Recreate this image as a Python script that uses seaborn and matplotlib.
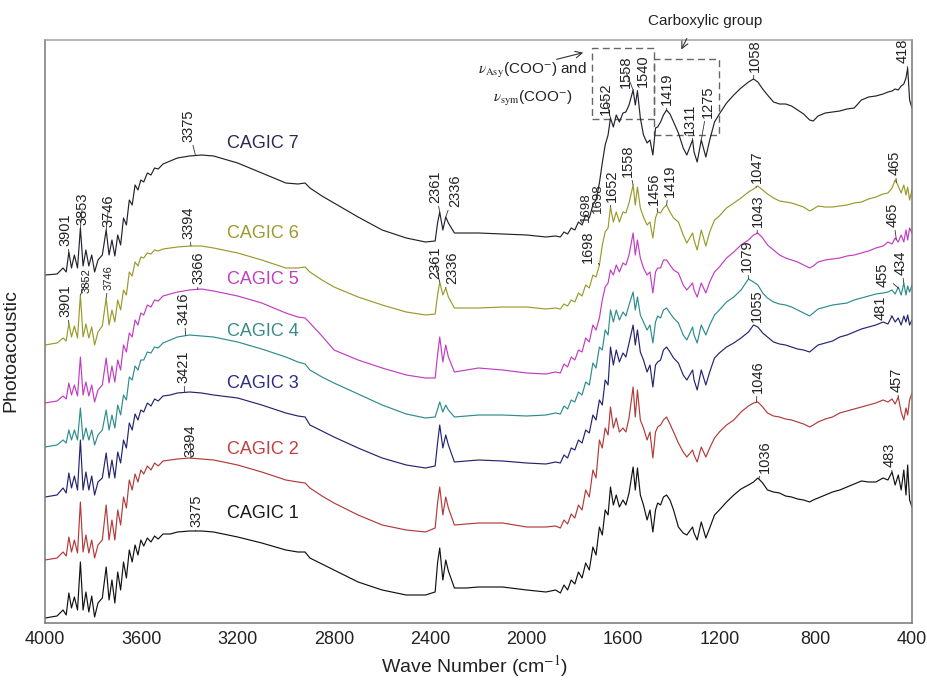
import numpy as np
import pandas as pd
import matplotlib
matplotlib.use("Agg")
import matplotlib.pyplot as plt
from matplotlib.patches import Rectangle
import seaborn as sns

# ---------------------------------------------------------------------------
# Photoacoustic FTIR spectra of the CAGIC samples (arbitrary units, stacked)
# ---------------------------------------------------------------------------
wavenumber = [
    4000, 3950, 3925, 3912, 3901, 3890, 3878, 3865, 3853, 3842, 3830, 3818, 3806, 3794, 3780,
    3762, 3746, 3734, 3722, 3710, 3698, 3686, 3674, 3662, 3650, 3638, 3626, 3614, 3602, 3590,
    3575, 3560, 3545, 3530, 3510, 3480, 3450,
    3400, 3350, 3300, 3200, 3100, 3000, 2950, 2920, 2900, 2850, 2800, 2700, 2600, 2500, 2420,
    2380, 2370, 2361, 2348, 2336, 2325, 2300, 2250, 2200, 2100, 2000, 1920,
    1880, 1860, 1845, 1830, 1815, 1800, 1785, 1770, 1755, 1740, 1725, 1712, 1698, 1686, 1674,
    1662, 1652,
    1640, 1628, 1615, 1600, 1588, 1575, 1558, 1549, 1540, 1528, 1515, 1500, 1488, 1476, 1465,
    1456, 1444, 1432, 1419, 1405, 1390, 1370, 1350, 1335, 1311, 1305, 1292, 1275, 1256, 1240,
    1220, 1200, 1170, 1140, 1110, 1079, 1058, 1040, 1020, 1000, 975, 950, 925, 900, 875,
    850, 825, 810, 790, 760, 730, 700, 670, 640, 610, 580, 550, 520, 500, 483,
    470, 457, 445, 434, 425, 418, 410, 400,
]

cagic_1 = [
    5, 7, 13, 8, 30, 15, 26, 13, 61, 13, 31, 11, 27, 6, 20, 25, 56, 23, 43, 20, 51, 33, 61, 45, 73,
    61, 78, 68, 83, 77, 85, 81, 87, 84, 89, 89, 91,
    92, 92, 91, 86, 80, 73, 71, 71, 65, 59, 53, 41, 33, 28, 28, 31, 60, 75, 43, 63, 52, 35, 35, 36,
    36, 33, 31,
    33, 30, 38, 33, 43, 39, 51, 45, 60, 53, 76, 68, 96, 88, 113, 108, 136,
    118, 128, 116, 123, 118, 130, 156, 133, 155, 128, 118, 103, 113, 91, 113, 120, 118, 126, 128,
    123, 113, 96, 90, 88, 96, 90, 83, 101, 85, 95,
    108, 113, 121, 128, 134, 138, 141, 145, 140, 133, 131, 130, 127, 126, 124, 123, 121, 123, 125,
    128, 131, 133, 136, 139, 142, 141, 141, 145, 143, 151, 138, 148, 133, 153, 128, 158, 123, 116,
]

cagic_2 = [
    63, 65, 71, 67, 86, 71, 83, 70, 121, 71, 88, 70, 83, 65, 78, 83, 118, 83, 103, 83, 113, 98,
    126, 115, 143, 133, 149, 141, 153, 149, 157, 153, 160, 157, 162, 163, 164,
    165, 164, 163, 158, 151, 143, 141, 140, 135, 127, 120, 108, 98, 93, 91, 95, 120, 136, 108, 126,
    115, 98, 99, 100, 100, 96, 96,
    97, 95, 103, 99, 109, 105, 118, 113, 133, 126, 153, 145, 183, 175, 195, 188, 216,
    195, 205, 191, 195, 191, 205, 236, 206, 233, 203, 195, 183, 191, 165, 191, 196, 198, 203, 206,
    199, 191, 180, 171, 166, 173, 168, 161, 176, 166, 175,
    185, 191, 198, 203, 211, 217, 220, 221, 216, 210, 207, 206, 204, 203, 201, 199, 196, 198, 201,
    204, 206, 210, 212, 214, 216, 218, 220, 223, 221, 224, 219, 226, 211, 203, 215, 208, 223, 230,
]

cagic_3 = [
    126, 128, 135, 130, 150, 135, 147, 133, 183, 133, 151, 133, 147, 128, 141, 145, 170, 145, 163,
    145, 171, 160, 183, 175, 200, 193, 209, 203, 213, 211, 220, 217, 224, 222, 227, 228, 230,
    231, 230, 228, 225, 218, 210, 207, 206, 198, 192, 186, 175, 165, 158, 155, 157, 180, 198, 175,
    188, 178, 161, 162, 163, 162, 160, 159,
    161, 160, 168, 165, 175, 173, 183, 180, 193, 190, 208, 203, 223, 218, 243, 238, 276,
    258, 273, 261, 270, 266, 280, 298, 278, 293, 271, 263, 251, 258, 236, 258, 261, 263, 273, 276,
    271, 265, 260, 248, 243, 253, 243, 233, 253, 238, 251,
    265, 270, 276, 280, 285, 291, 298, 296, 290, 286, 281, 279, 278, 276, 274, 273, 271, 274, 278,
    280, 282, 286, 288, 291, 294, 296, 298, 301, 299, 307, 301, 305, 298, 307, 301, 308, 298, 303,
]

cagic_4 = [
    176, 178, 183, 180, 193, 183, 193, 183, 215, 183, 195, 183, 193, 178, 188, 193, 213, 193, 208,
    195, 218, 208, 228, 223, 246, 243, 257, 253, 263, 263, 271, 270, 276, 275, 280, 283, 286,
    288, 287, 286, 281, 274, 266, 261, 259, 253, 246, 240, 229, 218, 209, 205, 206, 214, 221, 211,
    218, 213, 206, 207, 208, 208, 207, 208,
    210, 209, 217, 214, 223, 221, 231, 228, 241, 238, 260, 255, 276, 273, 293, 288, 313,
    301, 313, 303, 311, 307, 318, 331, 313, 326, 308, 301, 293, 298, 280, 301, 307, 305, 313, 315,
    310, 305, 300, 288, 283, 296, 288, 280, 298, 288, 298,
    308, 313, 321, 326, 333, 344, 341, 338, 330, 325, 321, 319, 318, 316, 313, 310, 307, 310, 314,
    316, 318, 319, 320, 323, 325, 327, 329, 330, 331, 333, 329, 336, 328, 340, 328, 337, 331, 338,
]

cagic_5 = [
    220, 222, 227, 224, 240, 228, 238, 227, 266, 228, 241, 227, 238, 221, 233, 238, 265, 240, 257,
    241, 263, 253, 278, 271, 290, 286, 303, 298, 310, 308, 318, 316, 323, 322, 327, 329, 331,
    333, 334, 332, 327, 320, 310, 306, 305, 300, 287, 273, 263, 255, 248, 245, 245, 268, 286, 261,
    278, 266, 251, 253, 255, 253, 250, 249,
    251, 250, 259, 256, 266, 263, 273, 271, 285, 281, 298, 293, 305, 323, 336, 340, 353,
    348, 358, 351, 360, 358, 368, 390, 368, 383, 365, 355, 348, 351, 330, 351, 355, 355, 363, 363,
    358, 353, 350, 338, 333, 340, 333, 326, 340, 330, 341,
    351, 356, 365, 371, 378, 383, 388, 390, 385, 378, 373, 368, 365, 363, 361, 358, 355, 357, 361,
    363, 364, 365, 367, 368, 370, 372, 375, 377, 381, 379, 385, 381, 388, 381, 393, 383, 395, 390,
]

cagic_6 = [
    278, 280, 285, 282, 300, 286, 297, 285, 328, 286, 299, 285, 296, 278, 291, 297, 325, 298, 313,
    301, 323, 313, 333, 328, 351, 347, 361, 357, 366, 365, 370, 369, 373, 372, 374, 375, 376,
    377, 377, 375, 370, 363, 355, 355, 356, 351, 343, 336, 326, 318, 311, 308, 309, 328, 341, 328,
    335, 326, 315, 315, 315, 316, 316, 314,
    315, 314, 319, 317, 323, 321, 330, 327, 338, 335, 348, 346, 358, 378, 391, 395, 416,
    401, 411, 401, 411, 410, 420, 438, 418, 436, 415, 406, 398, 401, 385, 405, 411, 410, 415, 418,
    411, 405, 401, 388, 380, 390, 383, 373, 393, 377, 391,
    403, 407, 415, 420, 425, 431, 434, 437, 433, 429, 425, 422, 421, 420, 418, 416, 412, 414, 417,
    416, 416, 417, 418, 420, 421, 424, 426, 429, 430, 435, 443, 437, 430, 438, 428, 436, 423, 433,
]

cagic_7 = [
    348, 349, 355, 351, 371, 355, 368, 355, 395, 357, 373, 357, 368, 351, 363, 368, 393, 368, 383,
    367, 388, 378, 405, 398, 423, 418, 438, 433, 443, 441, 450, 448, 455, 454, 459, 462, 465,
    467, 468, 467, 460, 450, 440, 439, 440, 435, 427, 420, 406, 393, 385, 381, 382, 400, 411, 393,
    406, 400, 390, 390, 390, 389, 388, 386,
    387, 386, 391, 389, 395, 393, 401, 398, 408, 405, 418, 423, 440, 460, 478, 488, 505,
    496, 508, 501, 510, 511, 518, 533, 518, 532, 505, 488, 480, 483, 468, 495, 496, 501, 508, 513,
    509, 501, 490, 475, 468, 483, 471, 461, 483, 466, 483,
    501, 509, 520, 528, 535, 541, 544, 541, 534, 528, 521, 519, 519, 517, 513, 509, 503, 502, 507,
    510, 511, 512, 514, 515, 523, 526, 527, 529, 531, 532, 534, 533, 537, 539, 545, 555, 523, 515,
]

samples = ["CAGIC 1", "CAGIC 2", "CAGIC 3", "CAGIC 4", "CAGIC 5", "CAGIC 6", "CAGIC 7"]
spectra = [cagic_1, cagic_2, cagic_3, cagic_4, cagic_5, cagic_6, cagic_7]

line_colors = ["#111111", "#b23a3a", "#24246e", "#2e8c8c", "#c23cc2", "#9a9a2c", "#222230"]
label_colors = ["#1a1a1a", "#c04040", "#2e2e8a", "#3a8a8a", "#c040c0", "#9a9a30", "#2a2a50"]

# sample name placement (wavenumber of left edge, signal level)
name_pos = [(3244, 109), (3244, 174), (3244, 240), (3244, 291), (3244, 343), (3244, 389), (3244, 480)]

# peak labels: (sample index, peak wavenumber, label, text x, text bottom, font size)
peak_labels = [
    (6, 3901, "3901", 3913, 377, 10.5), (6, 3853, "3853", 3846, 398, 10.5),
    (6, 3746, "3746", 3738, 396, 10.5), (6, 3375, "3375", 3406, 481, 10.5),
    (6, 2361, "2361", 2381, 420, 10.5), (6, 2336, "2336", 2298, 416, 10.5),
    (6, 1652, "1652", 1671, 508, 10.5), (6, 1558, "1558", 1588, 535, 10.5),
    (6, 1540, "1540", 1517, 536, 10.5), (6, 1419, "1419", 1418, 518, 10.5),
    (6, 1311, "1311", 1322, 488, 10.5), (6, 1275, "1275", 1247, 505, 10.5),
    (6, 1058, "1058", 1052, 551, 10.5), (6, 418, "418", 438, 560, 10.5),
    (5, 3901, "3901", 3917, 306, 10.5), (5, 3853, "3852", 3826, 330, 8),
    (5, 3746, "3746", 3734, 333, 8), (5, 3394, "3394", 3406, 384, 10.5),
    (5, 2361, "2361", 2381, 344, 10.5), (5, 2336, "2336", 2310, 339, 10.5),
    (5, 1698, "1698", 1745, 360, 10.5), (5, 1652, "1652", 1646, 421, 10.5),
    (5, 1558, "1558", 1579, 446, 10.5), (5, 1456, "1456", 1470, 418, 10.5),
    (5, 1419, "1419", 1407, 426, 10.5), (5, 1047, "1047", 1044, 440, 10.5),
    (5, 465, "465", 471, 448, 10.5),
    (4, 3366, "3366", 3361, 339, 10.5), (4, 1043, "1043", 1040, 396, 10.5),
    (4, 465, "465", 479, 396, 10.5),
    (3, 3416, "3416", 3423, 298, 10.5), (3, 1079, "1079", 1085, 351, 10.5),
    (3, 455, "455", 521, 336, 10.5), (3, 434, "434", 446, 348, 10.5),
    (2, 3421, "3421", 3423, 240, 10.5), (2, 1055, "1055", 1044, 301, 10.5),
    (2, 481, "481", 530, 303, 10.5),
    (1, 3394, "3394", 3398, 166, 10.5), (1, 1046, "1046", 1040, 230, 10.5),
    (1, 457, "457", 463, 231, 10.5),
    (0, 3375, "3375", 3373, 96, 10.5), (0, 1036, "1036", 1010, 150, 10.5),
    (0, 483, "483", 492, 156, 10.5),
]

# long-form table for seaborn
df = pd.DataFrame({
    "wavenumber": np.tile(wavenumber, len(samples)),
    "signal": np.concatenate(spectra),
    "sample": np.repeat(samples, len(wavenumber)),
})

sns.set_theme(style="white")
plt.rcParams["font.family"] = ["Liberation Sans", "DejaVu Sans"]
plt.rcParams["mathtext.fontset"] = "stix"

fig = plt.figure(figsize=(9.28, 6.8), dpi=100)
ax = fig.add_axes([45 / 928, 1 - 623 / 680, 867 / 928, 583 / 680])

sns.lineplot(data=df, x="wavenumber", y="signal", hue="sample", hue_order=samples,
             palette=dict(zip(samples, line_colors)), estimator=None, sort=False,
             legend=False, linewidth=0.85, ax=ax)

ax.set_xlim(4000, 400)
ax.set_ylim(0, 583)
ax.set_xticks(np.arange(4000, 399, -400))
ax.set_xticks(np.arange(3800, 399, -400), minor=True)
ax.set_yticks([])
ax.tick_params(axis="x", which="both", direction="in", length=7, width=1.0,
               colors="#555555", labelcolor="#222222", labelsize=13, pad=6)
for side, spine in ax.spines.items():
    spine.set_visible(True)
    spine.set_color("#777777" if side != "top" else "#a0a0a0")
    spine.set_linewidth(1.1)

ax.set_xlabel("Wave Number (cm$^{-1}$)", fontsize=14, color="#222222")
ax.xaxis.set_label_coords(0.496, -0.052)
ax.set_ylabel("Photoacoustic", fontsize=14, color="#222222")
ax.yaxis.set_label_coords(-0.029, 0.468)

# sample names
for name, (x, y), c in zip(samples, name_pos, label_colors):
    ax.text(x, y, name, color=c, fontsize=13, ha="left", va="center")

# peak markers with leader lines
wn_arr = np.array(wavenumber)[::-1]
for idx, peak, text, tx, ty, fs in peak_labels:
    curve = np.array(spectra[idx])[::-1]
    yc = float(np.interp(peak, wn_arr, curve))
    ax.annotate(text, xy=(peak, yc), xytext=(tx, ty), rotation=90, ha="center", va="bottom",
                fontsize=fs, color="#222222", annotation_clip=False,
                arrowprops=dict(arrowstyle="-", lw=0.6, color="#333333",
                                shrinkA=0, shrinkB=0))

# the doubly printed 1698 assignment near the top spectrum, set side by side
ax.text(1752, 401, "1698", rotation=90, ha="center", va="bottom", fontsize=9.5, color="#222222")
ax.text(1704, 410, "1698", rotation=90, ha="center", va="bottom", fontsize=9.5, color="#222222")

# carboxylate / carboxylic regions
box_style = dict(fill=False, edgecolor="#666666", lw=1.0, linestyle=(0, (5, 3)))
ax.add_patch(Rectangle((1729, 504), 1471 - 1729, 575 - 504, **box_style))
ax.add_patch(Rectangle((1471, 488), 1202 - 1471, 564 - 488, **box_style))

ax.text(2202, 552, r"$\nu_{\mathrm{Asy}}$(COO$^{-}$) and", fontsize=11, ha="left", va="center",
        color="#222222")
ax.text(2140, 524, r"$\nu_{\mathrm{sym}}$(COO$^{-}$)", fontsize=11, ha="left", va="center",
        color="#222222")
ax.annotate("", xy=(1754, 571), xytext=(1887, 563), annotation_clip=False,
            arrowprops=dict(arrowstyle="->", lw=0.8, color="#333333"))

ax.text(1260, 602, "Carboxylic group", fontsize=11, ha="center", va="center", color="#222222",
        clip_on=False)
ax.annotate("", xy=(1363, 571), xytext=(1330, 587), annotation_clip=False,
            arrowprops=dict(arrowstyle="->", lw=0.8, color="#333333"))

fig.savefig("out.png", dpi=100)
